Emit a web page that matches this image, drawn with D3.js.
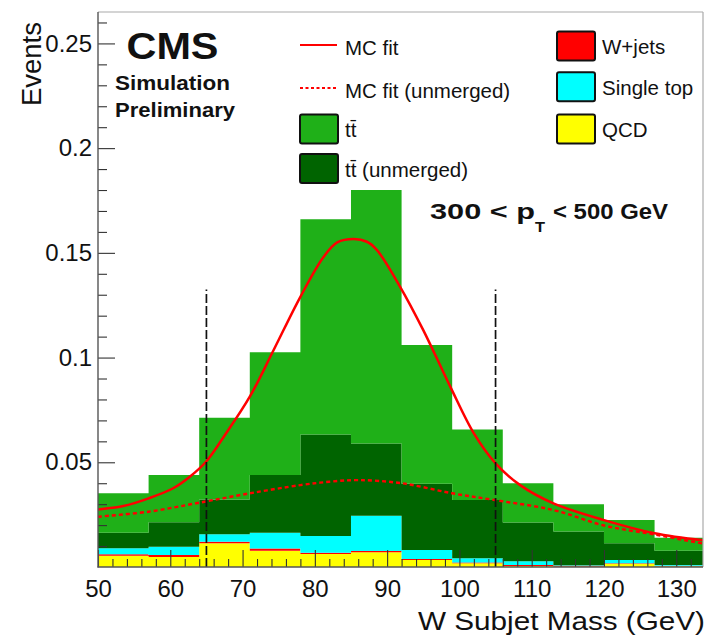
<!DOCTYPE html>
<html>
<head>
<meta charset="utf-8">
<script src="https://cdn.jsdelivr.net/npm/d3@7"></script>
<style>
  body { margin: 0; background: #fff; }
  svg { display: block; }
  text { font-family: "Liberation Sans", Arial, Helvetica, sans-serif; fill: #111; }
</style>
</head>
<body>
<svg id="chart" width="706" height="642"></svg>
<script>
// W subjet mass, 300 < pT < 500 GeV, stacked simulation (bins of 7 GeV)
const binEdges   = [50, 57, 64, 71, 78, 85, 92, 99, 106, 113, 120, 127, 134];
const qcd        = [0.0054, 0.0048, 0.0113, 0.0078, 0.0062, 0.0070, 0.0033, 0.0018, 0.0005, 0.0002, 0.0015, 0.0004];
const wJets      = [0.0007, 0.0009, 0.0008, 0.0010, 0.0006, 0.0006, 0.0005, 0.0004, 0.0005, 0.0004, 0.0003, 0.0002];
const singleTop  = [0.0028, 0.0040, 0.0035, 0.0076, 0.0080, 0.0169, 0.0043, 0.0020, 0.0017, 0.0002, 0.0015, 0.0004];
const ttUnmerged = [0.0075, 0.0117, 0.0166, 0.0275, 0.0485, 0.0345, 0.0317, 0.0278, 0.0185, 0.0161, 0.0080, 0.0068];
const ttMerged   = [0.0188, 0.0225, 0.0391, 0.0586, 0.1028, 0.1210, 0.0662, 0.0337, 0.0188, 0.0131, 0.0111, 0.0062];

// MC fit curves, sampled along the mass axis
const fitMass = [50, 53.5, 57, 60.4, 62.7, 65, 67.4, 71, 74.3, 78, 81.2, 83.1, 85.4, 87.2, 88.6, 91.8, 95, 98.75, 102, 105, 108.4, 113, 120, 127, 134];
const fitEvents = [0.0275, 0.0291, 0.0328, 0.0376, 0.0431, 0.0505, 0.0622, 0.0813, 0.1036, 0.1290, 0.1480, 0.1550, 0.1566, 0.1553, 0.1513, 0.1338, 0.1131, 0.0860, 0.0638, 0.0495, 0.0391, 0.0304, 0.0224, 0.0161, 0.0126];
const fitUnmergedMass = [50, 57, 64, 71, 78, 82, 86, 92, 99, 105, 113, 120, 127, 134];
const fitUnmergedEvents = [0.0240, 0.0264, 0.0307, 0.0352, 0.0391, 0.0407, 0.0415, 0.0400, 0.0352, 0.0319, 0.0272, 0.0198, 0.0155, 0.0110];

// Mass window markers
const windowEdges = [65, 105];
const windowTop = 0.1325;

// Axis ticks
const xTickLabels = [50, 60, 70, 80, 90, 100, 110, 120, 130];
const xMinorTicks = d3.range(52, 134, 2).filter(v => v % 10 !== 0);
const yTickValues = [0.05, 0.10, 0.15, 0.20, 0.25];
const yTickLabels = ["0.05", "0.1", "0.15", "0.2", "0.25"];
const yMinorTicks = [0.01,0.02,0.03,0.04,0.06,0.07,0.08,0.09,0.11,0.12,0.13,0.14,0.16,0.17,0.18,0.19,0.21,0.22,0.23,0.24,0.26];

const processKeys   = ["qcd", "wJets", "singleTop", "ttUnmerged", "ttMerged"];
const processColors = { qcd: "#ffff00", wJets: "#ff0000", singleTop: "#00ffff", ttUnmerged: "#006400", ttMerged: "#1fb018" };

const svg = d3.select("#chart");
const x = d3.scaleLinear().domain([50, 133.7]).range([98, 703]);
const y = d3.scaleLinear().domain([0, 0.265]).range([567, 12]);

svg.append("defs").append("clipPath").attr("id", "plotClip")
  .append("rect").attr("x", 98).attr("y", 12).attr("width", 605).attr("height", 555);

const plot = svg.append("g").attr("clip-path", "url(#plotClip)");

// Stacked histogram
const rows = binEdges.slice(0, -1).map((lo, i) => ({
  lo, hi: binEdges[i + 1],
  qcd: qcd[i], wJets: wJets[i], singleTop: singleTop[i], ttUnmerged: ttUnmerged[i], ttMerged: ttMerged[i]
}));
const stacked = d3.stack().keys(processKeys)(rows);
const stepArea = d3.area()
  .curve(d3.curveStepAfter)
  .x(d => x(d.m))
  .y0(d => y(d.y0))
  .y1(d => y(d.y1));

stacked.forEach(layer => {
  const pts = layer.map(d => ({ m: d.data.lo, y0: d[0], y1: d[1] }));
  const last = layer[layer.length - 1];
  pts.push({ m: last.data.hi, y0: last[0], y1: last[1] });
  plot.append("path")
    .attr("d", stepArea(pts))
    .attr("fill", processColors[layer.key]);
});

// Fit curves
const fitLine = d3.line().curve(d3.curveCatmullRom.alpha(0.5)).x(d => x(d[0])).y(d => y(d[1]));
plot.append("path")
  .attr("d", fitLine(fitUnmergedMass.map((m, i) => [m, fitUnmergedEvents[i]])))
  .attr("fill", "none").attr("stroke", "#ff0000").attr("stroke-width", 2.4)
  .attr("stroke-dasharray", "4,3");
plot.append("path")
  .attr("d", fitLine(fitMass.map((m, i) => [m, fitEvents[i]])))
  .attr("fill", "none").attr("stroke", "#ff0000").attr("stroke-width", 2.5);

// Mass window
plot.selectAll("line.window").data(windowEdges).join("line")
  .attr("class", "window")
  .attr("x1", d => x(d)).attr("x2", d => x(d))
  .attr("y1", y(0)).attr("y2", y(windowTop))
  .attr("stroke", "#111").attr("stroke-width", 1.7)
  .attr("stroke-dasharray", "9,3");

// Axes (ticks drawn inside the frame)
const tickColor = "#333";
function styleAxis(g) {
  g.select(".domain").remove();
  g.selectAll(".tick line").attr("stroke", tickColor).attr("stroke-width", 1.1);
  g.selectAll(".tick text").attr("fill", "#111").style("font-size", "24px")
    .style("font-family", "'Liberation Sans', Arial, Helvetica, sans-serif");
}
svg.append("g").attr("transform", "translate(0,567)")
  .call(d3.axisBottom(x).tickValues(xMinorTicks).tickSize(-8).tickFormat(""))
  .call(styleAxis);
svg.append("g").attr("transform", "translate(0,567)")
  .call(d3.axisBottom(x).tickValues(xTickLabels).tickSize(-17).tickPadding(13).tickFormat(d => String(d)))
  .call(styleAxis);
svg.append("g").attr("transform", "translate(98,0)")
  .call(d3.axisLeft(y).tickValues(yMinorTicks).tickSize(-9).tickFormat(""))
  .call(styleAxis);
svg.append("g").attr("transform", "translate(98,0)")
  .call(d3.axisLeft(y).tickValues(yTickValues).tickSize(-17).tickPadding(6).tickFormat((d, i) => yTickLabels[i]))
  .call(styleAxis);

// Frame
svg.append("line").attr("x1", 98).attr("x2", 703).attr("y1", 12).attr("y2", 12).attr("stroke", "#aaa").attr("stroke-width", 1.2);
svg.append("line").attr("x1", 703).attr("x2", 703).attr("y1", 12).attr("y2", 567).attr("stroke", "#aaa").attr("stroke-width", 1.2);
svg.append("line").attr("x1", 98).attr("x2", 98).attr("y1", 12).attr("y2", 567.5).attr("stroke", "#555").attr("stroke-width", 1.4);
svg.append("line").attr("x1", 97.5).attr("x2", 703).attr("y1", 567).attr("y2", 567).attr("stroke", "#555").attr("stroke-width", 1.4);

// Axis titles
svg.append("text").attr("x", 705).attr("y", 630).attr("text-anchor", "end")
  .style("font-size", "26px").attr("textLength", 287).attr("lengthAdjust", "spacingAndGlyphs")
  .text("W Subjet Mass  (GeV)");
svg.append("text").attr("transform", "translate(41,22) rotate(-90)").attr("text-anchor", "end")
  .style("font-size", "27px").attr("textLength", 84).attr("lengthAdjust", "spacingAndGlyphs")
  .text("Events");

// CMS labels
svg.append("text").attr("x", 126.5).attr("y", 58.5).style("font-size", "37px").style("font-weight", "bold")
  .attr("textLength", 92).attr("lengthAdjust", "spacingAndGlyphs").text("CMS");
svg.append("text").attr("x", 115).attr("y", 89.5).style("font-size", "21px").style("font-weight", "bold")
  .attr("textLength", 115).attr("lengthAdjust", "spacingAndGlyphs").text("Simulation");
svg.append("text").attr("x", 115).attr("y", 116.5).style("font-size", "21px").style("font-weight", "bold")
  .attr("textLength", 120).attr("lengthAdjust", "spacingAndGlyphs").text("Preliminary");

// pT range
svg.append("text").attr("x", 430).attr("y", 218.5).style("font-size", "22px").style("font-weight", "bold")
  .attr("textLength", 105).attr("lengthAdjust", "spacingAndGlyphs").text("300 < p");
svg.append("text").attr("x", 535).attr("y", 232).style("font-size", "14px").style("font-weight", "bold")
  .attr("textLength", 10).attr("lengthAdjust", "spacingAndGlyphs").text("T");
svg.append("text").attr("x", 553).attr("y", 218.5).style("font-size", "22px").style("font-weight", "bold")
  .attr("textLength", 115).attr("lengthAdjust", "spacingAndGlyphs").text("< 500 GeV");

// Legend
const lineEntries = [
  { label: "MC fit", cy: 45, dash: null },
  { label: "MC fit (unmerged)", cy: 88, dash: "3,2.5" }
];
const boxEntries = [
  { label: "t\u0074\u0304", key: "ttMerged", bx: 300, cy: 129 },
  { label: "t\u0074\u0304 (unmerged)", key: "ttUnmerged", bx: 300, cy: 168.5 },
  { label: "W+jets", key: "wJets", bx: 557, cy: 46 },
  { label: "Single top", key: "singleTop", bx: 557, cy: 86.7 },
  { label: "QCD", key: "qcd", bx: 557, cy: 129 }
];
const legend = svg.append("g");
lineEntries.forEach(e => {
  legend.append("line").attr("x1", 300).attr("x2", 337).attr("y1", e.cy).attr("y2", e.cy)
    .attr("stroke", "#ff0000").attr("stroke-width", 2.2).attr("stroke-dasharray", e.dash);
  legend.append("text").attr("x", 345).attr("y", e.cy + 9.5).style("font-size", "20.5px").text(e.label);
});
boxEntries.forEach(e => {
  legend.append("rect").attr("x", e.bx).attr("y", e.cy - 14.5).attr("width", 38).attr("height", 29)
    .attr("rx", 2).attr("fill", processColors[e.key]).attr("stroke", "#111").attr("stroke-width", 2);
  legend.append("text").attr("x", e.bx + 45).attr("y", e.cy + 8).style("font-size", "20.5px").text(e.label);
});
</script>
</body>
</html>
